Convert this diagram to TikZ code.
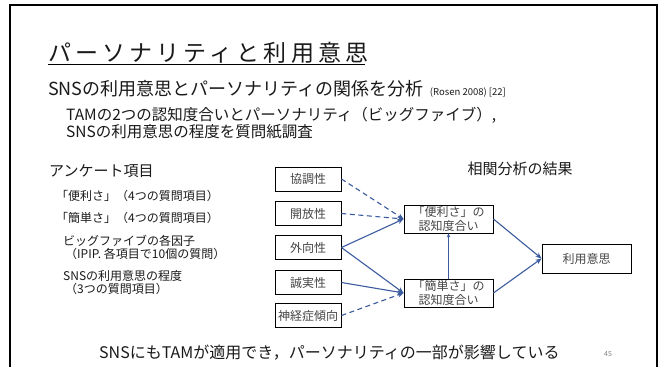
\documentclass[tikz,border=0pt]{standalone}
\usepackage{fontspec}
\setmainfont{Noto Sans CJK JP}
\newfontfamily\jp{Noto Sans CJK JP}
\newfontfamily\jpt[LetterSpace=18]{Noto Sans CJK JP}
\usetikzlibrary{arrows.meta,calc}
\definecolor{arrowc}{HTML}{3B5B9E}
\definecolor{txt}{HTML}{1A1A1A}
\definecolor{boxtxt}{HTML}{454545}
\tikzset{
  txtnode/.style={anchor=base west, inner sep=0pt, text=txt},
  boxnode/.style={draw=black, line width=0.9pt, fill=white, minimum width=66pt, minimum height=24pt,
    inner sep=1pt, text=boxtxt, font=\jp\fontsize{12}{14}\selectfont, align=center},
  bigbox/.style={boxnode, minimum width=89pt, minimum height=28pt},
  conn/.style={draw=arrowc, line width=1.1pt, -{Stealth[length=6pt,width=5pt]}},
  dconn/.style={conn, dash pattern=on 5pt off 3.5pt},
}
\begin{document}
\begin{tikzpicture}[x=1pt,y=-1pt]
\useasboundingbox (0,0) rectangle (665,367);
\fill[white] (0,0) rectangle (665,367);
% frame
\draw[line width=2pt, line join=miter] (10,368) -- (10,5) -- (657,5) -- (657,368);

% title
\node[txtnode, font=\jpt\fontsize{23}{28}\selectfont] (title) at (48,61) {パーソナリティと利用意思};
\draw[line width=1.5pt] ($(title.base west)+(0,3.5)$) -- ($(title.base east)+(-4,3.5)$);

\node[txtnode, font=\jp\fontsize{18}{21}\selectfont] (sub) at (48,95) {SNSの利用意思とパーソナリティの関係を分析};
\node[txtnode, font=\jp\fontsize{9.5}{11}\selectfont] (ref) at ($(sub.base east)+(6,0)$) {(Rosen 2008) [22]};

\node[txtnode, font=\jp\fontsize{15.5}{18}\selectfont] (tam) at (66,120) {TAMの2つの認知度合いとパーソナリティ（ビッグファイブ）,};
\node[txtnode, font=\jp\fontsize{15.5}{18}\selectfont] (sns) at (66,137) {SNSの利用意思の程度を質問紙調査};

% left list
\node[txtnode, font=\jp\fontsize{15}{18}\selectfont] (ank) at (49,176.7) {アンケート項目};
\node[txtnode, font=\jp\fontsize{12}{14}\selectfont] (i1) at (56,200.5) {「便利さ」（4つの質問項目）};
\node[txtnode, font=\jp\fontsize{12}{14}\selectfont] (i2) at (56,222.5) {「簡単さ」（4つの質問項目）};
\node[txtnode, font=\jp\fontsize{12}{14}\selectfont] (i3) at (63,245.5) {ビッグファイブの各因子};
\node[txtnode, font=\jp\fontsize{12}{14}\selectfont] (i4) at (65,258.5) {（IPIP. 各項目で10個の質問）};
\node[txtnode, font=\jp\fontsize{12}{14}\selectfont] (i5) at (63,280.5) {SNSの利用意思の程度};
\node[txtnode, font=\jp\fontsize{12}{14}\selectfont] (i6) at (65,293.5) {（3つの質問項目）};

% diagram
\node[font=\jp\fontsize{15}{18}\selectfont, text=txt] (res) at (520,169) {相関分析の結果};
\node[boxnode] (kyo) at (308,179) {協調性};
\node[boxnode] (kai) at (308,213.5) {開放性};
\node[boxnode] (gai) at (308,247.5) {外向性};
\node[boxnode] (sei) at (308,282.5) {誠実性};
\node[boxnode] (shin) at (308,315.5) {神経症傾向};
\node[bigbox] (ben) at (448.5,219) {「便利さ」の\\認知度合い};
\node[bigbox] (kan) at (448.5,293) {「簡単さ」の\\認知度合い};
\node[bigbox, minimum height=29pt] (riy) at (586.5,258.5) {利用意思};

\draw[dconn] (kyo.east) -- (ben.west);
\draw[dconn] (kai.east) -- (ben.west);
\draw[conn] (gai.east) -- (ben.west);
\draw[conn] (gai.east) -- (kan.west);
\draw[conn] (sei.east) -- (kan.west);
\draw[dconn] (shin.east) -- (kan.west);
\draw[draw=arrowc, line width=1.1pt, -{Stealth[length=4pt,width=3.5pt]}] (kan.north) -- (ben.south);
\draw[conn] (ben.east) -- (riy.west);
\draw[conn] (kan.east) -- (riy.west);

% bottom
\node[txtnode, font=\jp\fontsize{16}{19}\selectfont] (concl) at (99,358) {SNSにもTAMが適用でき，パーソナリティの一部が影響している};
\node[txtnode, font=\jp\fontsize{7}{8}\selectfont, text=gray] (pg) at (604,356) {45};
\end{tikzpicture}
\end{document}
